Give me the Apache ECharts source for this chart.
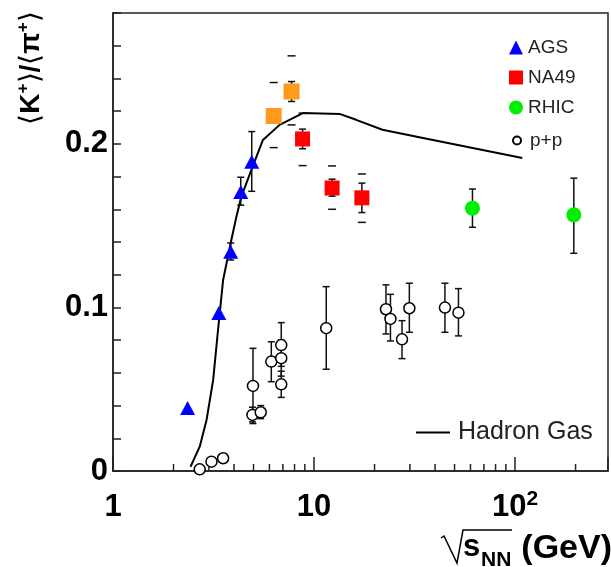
<!DOCTYPE html>
<html><head><meta charset="utf-8">
<script src="https://cdn.jsdelivr.net/npm/echarts@6/dist/echarts.min.js"></script>
<style>html,body{margin:0;padding:0;background:#fff}#c{width:611px;height:567px}</style>
</head><body><div id="c"></div>
<script>
const FONT = '"Liberation Sans", Arial, Helvetica, sans-serif';

// AGS
const agsX = [2.35, 3.36, 3.85, 4.32, 4.90];
const agsY = [0.0385, 0.0966, 0.134, 0.1706, 0.189];
const agsLo = [0.0385, 0.0966, 0.129, 0.1625, 0.171];
const agsHi = [0.0385, 0.0966, 0.1394, 0.1796, 0.2075];

// NA49
const na49X = [8.77, 12.3, 17.3];
const na49Y = [0.203, 0.173, 0.167];
const na49Lo = [0.197, 0.168, 0.158];
const na49Hi = [0.209, 0.1784, 0.176];
const na49SysLo = [0.1867, 0.160, 0.152];
const na49SysHi = [0.2188, 0.1865, 0.1816];

// NA49 (orange)
const na49bX = [6.3, 7.73];
const na49bY = [0.217, 0.232];
const na49bLo = [0.217, 0.2259];
const na49bHi = [0.217, 0.2381];
const na49bSysLo = [0.1977, 0.2116];
const na49bSysHi = [0.2375, 0.2538];

// RHIC
const rhicX = [61.4, 196];
const rhicY = [0.1607, 0.1566];
const rhicLo = [0.149, 0.1331];
const rhicHi = [0.1724, 0.179];

// p+p
const ppX  = [2.70, 3.09, 3.53, 4.97, 4.94, 5.43, 6.13, 6.87, 6.87, 6.87, 11.5, 22.8, 24.0, 27.4, 29.8, 44.8, 52.3];
const ppY  = [0.001, 0.0057, 0.0078, 0.052, 0.0343, 0.0359, 0.0669, 0.077, 0.069, 0.053, 0.0873, 0.0989, 0.093, 0.0805, 0.0995, 0.0999, 0.0968];
const ppLo = [0.001, 0.0057, 0.0078, 0.029, 0.030, 0.032, 0.0546, 0.064, 0.058, 0.045, 0.0622, 0.0838, 0.0795, 0.0687, 0.0848, 0.0848, 0.0826];
const ppHi = [0.001, 0.0057, 0.0078, 0.075, 0.039, 0.040, 0.079, 0.0907, 0.080, 0.061, 0.1127, 0.1138, 0.108, 0.0919, 0.1148, 0.1148, 0.1115];

// Hadron gas curve
const hgX = [2.43, 2.70, 2.92, 3.15, 3.33, 3.53, 3.85, 4.11, 4.35, 4.88, 5.57, 6.74, 8.80, 13.4, 16.2, 21.9, 33.4, 108.7];
const hgY = [0.0026, 0.0149, 0.0312, 0.0557, 0.0862, 0.1168, 0.1394, 0.1555, 0.1678, 0.1841, 0.2024, 0.2116, 0.2188, 0.2183, 0.2147, 0.2086, 0.2041, 0.1913];

// axis
const xMin = 1, xMax = 290;
const yMin = 0, yMax = 0.28, yStep = 0.02;
const xMinorTicks = [2,3,4,5,6,7,8,9,20,30,40,50,60,70,80,90,200];

const pts = (xs, ys) => xs.map((x, i) => [x, ys[i]]);
const errData = []
  .concat(agsX.map((x,i)=>[x, agsLo[i], agsHi[i]]))
  .concat(na49X.map((x,i)=>[x, na49Lo[i], na49Hi[i]]))
  .concat(na49bX.map((x,i)=>[x, na49bLo[i], na49bHi[i]]))
  .concat(rhicX.map((x,i)=>[x, rhicLo[i], rhicHi[i]]))
  .concat(ppX.map((x,i)=>[x, ppLo[i], ppHi[i]]))
  .filter(d => d[2] > d[1]);
const sysData = []
  .concat(na49X.map((x,i)=>[x, na49SysLo[i]]), na49X.map((x,i)=>[x, na49SysHi[i]]))
  .concat(na49bX.map((x,i)=>[x, na49bSysLo[i]]), na49bX.map((x,i)=>[x, na49bSysHi[i]]));

function errRender(params, api) {
  const x = api.value(0);
  const p1 = api.coord([x, api.value(1)]);
  const p2 = api.coord([x, api.value(2)]);
  const w = 3.5;
  const st = {stroke: '#111', lineWidth: 1.5};
  return {type: 'group', children: [
    {type: 'line', shape: {x1: p1[0], y1: p1[1], x2: p2[0], y2: p2[1]}, style: st},
    {type: 'line', shape: {x1: p1[0]-w, y1: p1[1], x2: p1[0]+w, y2: p1[1]}, style: st},
    {type: 'line', shape: {x1: p2[0]-w, y1: p2[1], x2: p2[0]+w, y2: p2[1]}, style: st}
  ]};
}
function sysRender(params, api) {
  const p = api.coord([api.value(0), api.value(1)]);
  return {type: 'line', shape: {x1: p[0]-4, y1: p[1], x2: p[0]+4, y2: p[1]}, style: {stroke: '#111', lineWidth: 1.5}};
}
function minorRender(params, api) {
  const p = api.coord([api.value(0), yMin]);
  return {type: 'line', shape: {x1: p[0], y1: p[1], x2: p[0], y2: p[1]-7}, style: {stroke: '#222', lineWidth: 1.5}};
}

const chart = echarts.init(document.getElementById('c'));
chart.setOption({
  animation: false,
  backgroundColor: '#fff',
  textStyle: {fontFamily: FONT},
  grid: {left: 113, top: 13, width: 497, height: 458, show: true, borderColor: '#222', borderWidth: 1.5, backgroundColor: 'transparent'},
  xAxis: {
    type: 'log', logBase: 10, min: xMin, max: xMax,
    axisLine: {show: true, lineStyle: {color: '#222', width: 1.5}},
    axisTick: {show: true, inside: true, length: 14, lineStyle: {color: '#222', width: 1.5}},
    splitLine: {show: false},
    axisLabel: {
      margin: 18, color: '#000', fontFamily: FONT, fontWeight: 'bold', fontSize: 31,
      formatter: v => {
        const l = Math.log10(v);
        if (Math.abs(l - Math.round(l)) > 1e-6) return '';
        const n = Math.round(l);
        if (n === 0) return '{b|1}';
        if (n === 1) return '{b|10}';
        return '{b|10}{s|' + n + '}';
      },
      rich: {
        b: {fontSize: 31, fontWeight: 'bold', fontFamily: FONT, color: '#000', lineHeight: 34, verticalAlign: 'bottom'},
        s: {fontSize: 21, fontWeight: 'bold', fontFamily: FONT, color: '#000', lineHeight: 21, verticalAlign: 'top'}
      }
    }
  },
  yAxis: {
    type: 'value', min: yMin, max: yMax, interval: yStep,
    axisLine: {show: true, lineStyle: {color: '#222', width: 1.5}},
    axisTick: {show: true, inside: true, length: 8, lineStyle: {color: '#222', width: 1.5}},
    splitLine: {show: false},
    axisLabel: {
      margin: 5, color: '#000', fontFamily: FONT, fontWeight: 'bold', fontSize: 31,
      formatter: v => {
        const t = Math.round(v * 100);
        if (t % 10 !== 0) return '';
        return t === 0 ? '0' : String(t / 100);
      }
    }
  },
  legend: [
    {
      orient: 'vertical', left: 504, top: 33, itemWidth: 14, itemHeight: 14, itemGap: 11,
      selectedMode: false,
      textStyle: {fontSize: 19, color: '#222', fontFamily: FONT},
      data: ['AGS', 'NA49', 'RHIC']
    },
    {
      orient: 'vertical', left: 507, top: 126, itemWidth: 8, itemHeight: 8,
      selectedMode: false,
      textStyle: {fontSize: 19, color: '#222', fontFamily: FONT, padding: [0,0,0,4]},
      data: ['p+p']
    },
    {
      left: 411, top: 415, itemWidth: 34, itemHeight: 2, selectedMode: false,
      textStyle: {fontSize: 25, color: '#222', fontFamily: FONT, padding: [0,0,0,3]},
      data: [{name: 'Hadron Gas', icon: 'rect'}]
    }
  ],
  graphic: [
    {
      type: 'text', x: 30, y: 68, rotation: Math.PI / 2, silent: true,
      style: {
        text: '{a|⟨}{k|K}{s|+}{a|⟩}{k|/}{a|⟨}{k|π}{s|+}{a|⟩}',
        align: 'center', verticalAlign: 'middle', fill: '#000',
        rich: {
          a: {fontSize: 28, fontFamily: FONT, lineHeight: 30, verticalAlign: 'bottom', fill: '#000'},
          k: {fontSize: 28, fontWeight: 'bold', fontFamily: FONT, lineHeight: 30, verticalAlign: 'bottom', fill: '#000'},
          s: {fontSize: 17, fontWeight: 'bold', fontFamily: FONT, lineHeight: 17, verticalAlign: 'top', fill: '#000'}
        }
      }
    },
    {
      type: 'text', x: 463, y: 547, silent: true,
      style: {text: 's', font: 'bold 31px ' + FONT, fill: '#000', align: 'left', verticalAlign: 'middle'}
    },
    {
      type: 'text', x: 481, y: 560, silent: true,
      style: {text: 'NN', font: 'bold 21px ' + FONT, fill: '#000', align: 'left', verticalAlign: 'middle'}
    },
    {
      type: 'text', x: 612, y: 549, silent: true,
      style: {text: '(GeV)', font: 'bold 34px ' + FONT, fill: '#000', align: 'right', verticalAlign: 'middle'}
    },
    {
      type: 'polyline', silent: true,
      shape: {points: [[441, 538], [444, 536], [457, 563], [463, 530], [512, 530]]},
      style: {stroke: '#000', lineWidth: 1.5, fill: null}
    }
  ],
  series: [
    {name: 'Hadron Gas', type: 'line', data: pts(hgX, hgY), symbol: 'none', z: 2,
     lineStyle: {color: '#000', width: 2}, itemStyle: {color: '#000'}},
    {name: 'err', type: 'custom', data: errData, renderItem: errRender, z: 3, encode: {x: 0, y: [1, 2]}},
    {name: 'sys', type: 'custom', data: sysData, renderItem: sysRender, z: 3, encode: {x: 0, y: 1}},
    {name: 'AGS', type: 'scatter', data: pts(agsX, agsY), symbol: 'triangle', symbolSize: [15, 14], z: 5,
     itemStyle: {color: '#0000ff', opacity: 1}},
    {name: 'NA49', type: 'scatter', data: pts(na49X, na49Y), symbol: 'rect', symbolSize: 15, z: 5,
     itemStyle: {color: '#ff0000', opacity: 1}},
    {name: 'NA49 early', type: 'scatter', data: pts(na49bX, na49bY), symbol: 'rect', symbolSize: 16, z: 5,
     itemStyle: {color: '#ff9a1e', opacity: 1}},
    {name: 'RHIC', type: 'scatter', data: pts(rhicX, rhicY), symbol: 'circle', symbolSize: 15, z: 5,
     itemStyle: {color: '#00ee00', opacity: 1}},
    {name: 'p+p', type: 'scatter', data: pts(ppX, ppY), symbol: 'circle', symbolSize: 11, z: 6,
     itemStyle: {color: '#fff', borderColor: '#000', borderWidth: 1.5, opacity: 1}},
    {name: 'minor', type: 'custom', data: xMinorTicks.map(v => [v, yMin]), renderItem: minorRender, z: 4, encode: {x: 0, y: 1}, silent: true}
  ]
});
</script></body></html>
